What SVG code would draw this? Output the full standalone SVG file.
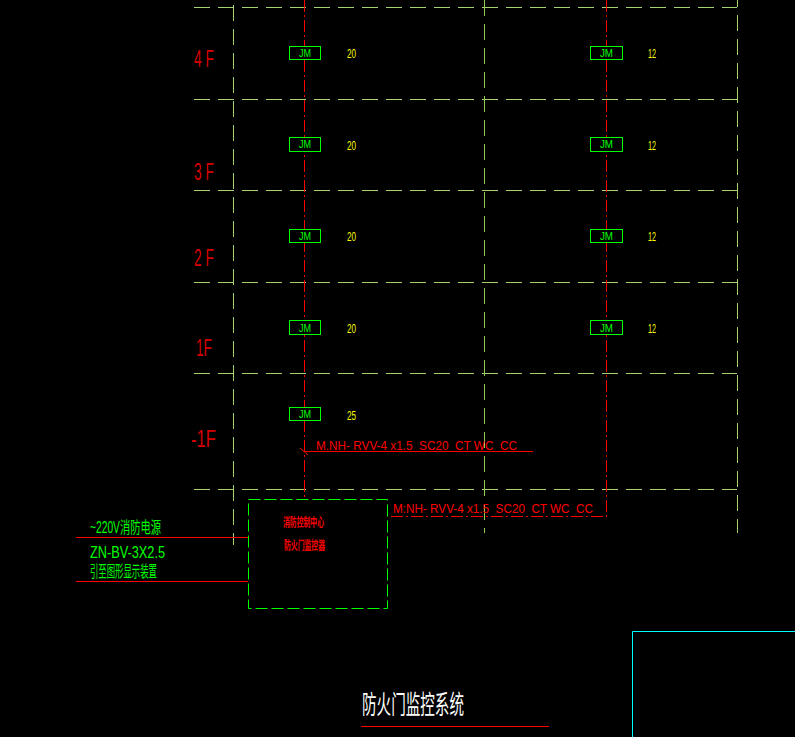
<svg xmlns="http://www.w3.org/2000/svg" width="795" height="737" viewBox="0 0 795 737">
<defs><style>
.g{stroke:#a5d36f;stroke-width:1;fill:none;stroke-dasharray:16 8}
.gd{stroke:#8fd14f;stroke-width:1;fill:none;stroke-dasharray:16 8}
.r{stroke:#f00;stroke-width:1;fill:none;stroke-dasharray:12 3 2 3}
.s{stroke:#f00;stroke-width:1;fill:none}
.box{fill:#000;stroke:#0f0;stroke-width:1}
text{font-family:"Liberation Sans","Noto Sans CJK SC",sans-serif;white-space:pre}
.jm{fill:#0f0;font-size:10px}
.n{fill:#ff0;font-size:13px}
.f{fill:#d80000;font-size:23px}
.m{fill:#f00;font-size:13px}
.t{fill:#0f0;font-size:16px}
.c{fill:#f00;font-size:12px;font-weight:bold}
</style></defs>
<rect width="795" height="737" fill="#000"/>
<g id="connectors">
<g id="floors">
<path class="g" d="M194 7.500H737"/>
<path class="g" d="M194 99.500H737"/>
<path class="g" d="M194 190.500H737"/>
<path class="g" d="M194 282.500H737"/>
<path class="g" d="M194 373.500H737"/>
<path class="g" d="M194 489.500H737"/>
<path class="g" d="M233.500 5V545"/>
<path class="g" d="M737.500 -9V533"/>
<path class="gd" d="M484.500 0V533"/>
</g>
<path class="r" d="M304.500 0V500"/>
<path class="r" d="M606.500 0V516.500H388"/>
<path class="s" d="M304 451.500H533M300 448L308 455"/>
<path class="s" d="M76 537.500H248M76 581.500H248"/>
<path class="s" d="M361 726.500H549"/>
<path d="M632.500 737V631.500H795" fill="none" stroke="#0ff"/>
</g>
<g id="jm-l4"><rect class="box" x="289.500" y="46.500" width="31" height="13"/><text class="jm" x="299" y="57" textLength="12" lengthAdjust="spacingAndGlyphs">JM</text><text class="n" x="347" y="58" textLength="9" lengthAdjust="spacingAndGlyphs">20</text></g>
<g id="jm-l3"><rect class="box" x="289.500" y="137.500" width="31" height="14"/><text class="jm" x="299" y="148" textLength="12" lengthAdjust="spacingAndGlyphs">JM</text><text class="n" x="347" y="150" textLength="9" lengthAdjust="spacingAndGlyphs">20</text></g>
<g id="jm-l2"><rect class="box" x="289.500" y="229.500" width="31" height="13"/><text class="jm" x="299" y="240" textLength="12" lengthAdjust="spacingAndGlyphs">JM</text><text class="n" x="347" y="241" textLength="9" lengthAdjust="spacingAndGlyphs">20</text></g>
<g id="jm-l1"><rect class="box" x="289.500" y="320.500" width="31" height="14"/><text class="jm" x="299" y="332" textLength="12" lengthAdjust="spacingAndGlyphs">JM</text><text class="n" x="347" y="333" textLength="9" lengthAdjust="spacingAndGlyphs">20</text></g>
<g id="jm-lb"><rect class="box" x="289.500" y="407.500" width="31" height="13"/><text class="jm" x="299" y="418" textLength="12" lengthAdjust="spacingAndGlyphs">JM</text><text class="n" x="347" y="420" textLength="9" lengthAdjust="spacingAndGlyphs">25</text></g>
<g id="jm-r4"><rect class="box" x="590.500" y="46.500" width="32" height="13"/><text class="jm" x="600" y="57" textLength="13" lengthAdjust="spacingAndGlyphs">JM</text><text class="n" x="648" y="58" textLength="8" lengthAdjust="spacingAndGlyphs">12</text></g>
<g id="jm-r3"><rect class="box" x="590.500" y="137.500" width="32" height="14"/><text class="jm" x="600" y="148" textLength="13" lengthAdjust="spacingAndGlyphs">JM</text><text class="n" x="648" y="150" textLength="8" lengthAdjust="spacingAndGlyphs">12</text></g>
<g id="jm-r2"><rect class="box" x="590.500" y="229.500" width="32" height="13"/><text class="jm" x="600" y="240" textLength="13" lengthAdjust="spacingAndGlyphs">JM</text><text class="n" x="648" y="241" textLength="8" lengthAdjust="spacingAndGlyphs">12</text></g>
<g id="jm-r1"><rect class="box" x="590.500" y="320.500" width="32" height="14"/><text class="jm" x="600" y="332" textLength="13" lengthAdjust="spacingAndGlyphs">JM</text><text class="n" x="648" y="333" textLength="8" lengthAdjust="spacingAndGlyphs">12</text></g>
<g id="floor-labels">
<text class="f" x="194" y="67" textLength="20" lengthAdjust="spacingAndGlyphs">4 F</text>
<text class="f" x="194" y="180" textLength="20" lengthAdjust="spacingAndGlyphs">3 F</text>
<text class="f" x="194" y="266" textLength="20" lengthAdjust="spacingAndGlyphs">2 F</text>
<text class="f" x="196" y="356" textLength="16" lengthAdjust="spacingAndGlyphs">1F</text>
<text class="f" x="191" y="447" textLength="25" lengthAdjust="spacingAndGlyphs">-1F</text>
</g>
<g id="cable-labels">
<text class="m" x="316" y="450" textLength="201" lengthAdjust="spacingAndGlyphs">M.NH- RVV-4 x1.5  SC20  CT WC  CC</text>
<text class="m" x="393" y="513" textLength="200" lengthAdjust="spacingAndGlyphs">M:NH- RVV-4 x1.5  SC20  CT WC  CC</text>
</g>
<g id="controller">
<rect x="248.500" y="499.500" width="139" height="109" fill="none" stroke="#0f0" stroke-dasharray="12 4"/>
<text class="c" x="283" y="527" textLength="41" lengthAdjust="spacingAndGlyphs">消防控制中心</text>
<text class="c" x="284" y="550" textLength="41" lengthAdjust="spacingAndGlyphs">防火门监控器</text>
</g>
<g id="power-labels">
<text class="t" x="90" y="533" textLength="71" lengthAdjust="spacingAndGlyphs">~220V消防电源</text>
<text class="t" x="90" y="558" textLength="75" lengthAdjust="spacingAndGlyphs">ZN-BV-3X2.5</text>
<text class="t" x="90" y="577" textLength="67" lengthAdjust="spacingAndGlyphs">引至图形显示装置</text>
</g>
<text id="title" x="362" y="714" font-size="26" fill="#fff" textLength="102" lengthAdjust="spacingAndGlyphs">防火门监控系统</text>
</svg>
